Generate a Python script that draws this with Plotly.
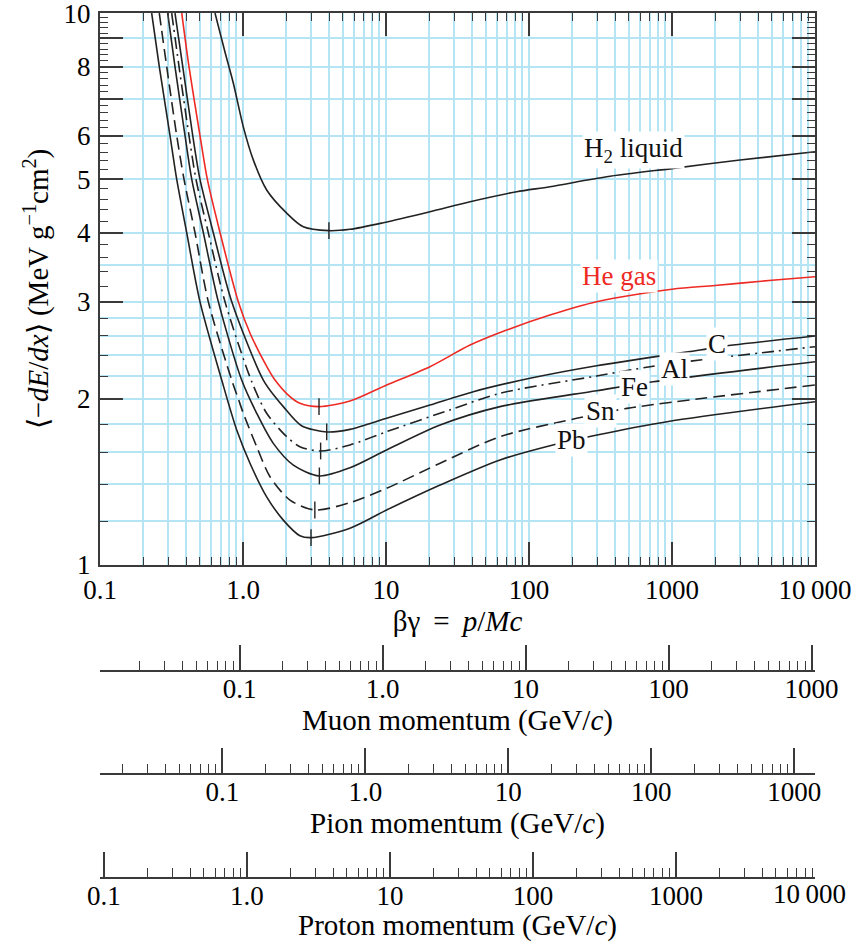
import numpy as np
import plotly.graph_objects as go

# ---------------- data ----------------
# particle masses (GeV/c^2) used for the momentum scales
M_MUON = 0.1056584
M_PION = 0.1395702
M_PROTON = 0.9382721

H2_bg = [0.637, 0.748, 0.856, 1.005, 1.18, 1.464, 2.02, 2.64, 3.99, 5.6, 9.58, 20.3, 38.7, 82.0, 140.0, 349.0, 1021.0, 2989.0, 10000.0]
H2_val = [10.0, 8.5, 7.46, 6.22, 5.42, 4.78, 4.34, 4.10, 4.034, 4.057, 4.17, 4.365, 4.551, 4.746, 4.845, 5.051, 5.232, 5.417, 5.607]

He_bg = [0.373, 0.419, 0.500, 0.563, 0.691, 0.927, 1.12, 1.464, 1.674, 2.13, 2.50, 3.40, 5.6, 10.1, 20.3, 38.7, 69.8, 140.0, 297.0, 1000.0, 2000.0, 5000.0, 10000.0]
He_val = [10.0, 8.0, 6.0, 5.0, 4.0, 3.0, 2.63, 2.29, 2.163, 2.018, 1.963, 1.936, 1.982, 2.119, 2.287, 2.503, 2.665, 2.837, 3.00, 3.16, 3.21, 3.28, 3.328]

C_bg = [0.3345, 0.379, 0.445, 0.500, 0.620, 0.834, 1.387, 1.72, 1.914, 2.55, 3.85, 5.6, 10.1, 20.3, 40.8, 101.6, 297.0, 1570.0, 2671.0, 10000.0]
C_val = [10.0, 8.0, 6.0, 5.0, 4.0, 3.0, 2.163, 2.0, 1.936, 1.79, 1.742, 1.761, 1.844, 1.949, 2.061, 2.179, 2.296, 2.452, 2.503, 2.599]

Al_bg = [0.3172, 0.357, 0.419, 0.469, 0.572, 0.748, 1.15, 1.464, 2.02, 2.50, 3.49, 5.6, 10.1, 28.0, 62.7, 297.0, 702.0, 1570.0, 10000.0]
Al_val = [10.0, 8.0, 6.0, 5.0, 4.0, 3.0, 2.15, 1.883, 1.708, 1.638, 1.609, 1.650, 1.744, 1.91, 2.047, 2.2, 2.287, 2.352, 2.486]

Fe_bg = [0.2974, 0.3345, 0.393, 0.438, 0.528, 0.672, 0.979, 1.247, 1.629, 2.25, 3.42, 5.6, 10.1, 23.9, 62.7, 297.0, 736.0, 10000.0]
Fe_val = [10.0, 8.0, 6.0, 5.0, 4.0, 3.0, 2.163, 1.883, 1.661, 1.517, 1.45, 1.50, 1.616, 1.793, 1.936, 2.069, 2.148, 2.335]

Sn_bg = [0.2598, 0.2927, 0.3438, 0.3867, 0.4617, 0.5719, 0.834, 0.927, 1.005, 1.247, 1.545, 2.13, 3.18, 5.6, 10.1, 23.9, 62.7, 215.6, 484.0, 10000.0]
Sn_val = [10.0, 8.0, 6.0, 5.0, 4.0, 3.0, 2.163, 2.0, 1.883, 1.638, 1.445, 1.311, 1.258, 1.297, 1.377, 1.529, 1.708, 1.844, 1.922, 2.119]

Pb_bg = [0.2298, 0.2598, 0.3087, 0.3438, 0.404, 0.500, 0.710, 0.904, 1.119, 1.464, 1.914, 2.50, 2.99, 5.6, 10.1, 23.9, 62.7, 147.0, 299.0, 923.0, 10000.0]
Pb_val = [10.0, 8.0, 6.0, 5.0, 4.0, 3.0, 2.163, 1.756, 1.529, 1.329, 1.206, 1.13, 1.121, 1.166, 1.258, 1.396, 1.55, 1.65, 1.72, 1.818, 1.976]

# minimum-ionization markers
min_bg = [3.99, 3.40, 3.85, 3.49, 3.42, 3.18, 2.99]
min_val = [4.034, 1.936, 1.742, 1.609, 1.450, 1.258, 1.121]

# curve labels: (text, log10 x, log10 y, colour)
labels = [
    ("H<sub>2</sub> liquid", 2.734, 0.752, "#111111"),
    ("He gas", 2.629, 0.524, "#ee2a24"),
    ("C", 3.318, 0.400, "#111111"),
    ("Al", 3.014, 0.355, "#111111"),
    ("Fe", 2.741, 0.3225, "#111111"),
    ("Sn", 2.497, 0.279, "#111111"),
    ("Pb", 2.297, 0.2264, "#111111"),
]

x_major = [0.1, 1, 10, 100, 1000, 10000]
x_major_text = ["0.1", "1.0", "10", "100", "1000", "10\u2009000"]
y_major = [1, 2, 3, 4, 5, 6, 7, 8, 9, 10]
y_major_text = ["1", "2", "3", "4", "5", "6", "", "8", "", "10"]
y_minor = [round(1 + 0.2 * i, 1) for i in range(46) if abs((1 + 0.2 * i) - round(1 + 0.2 * i)) > 1e-6]
y_extra_grid = [1.2, 1.4, 1.6, 1.8, 2.2, 2.4, 2.6, 2.8, 3.5]

# ---------------- styling ----------------
FONT = "Liberation Serif, Times New Roman, serif"
TICK_FS = 27
TITLE_FS = 29
GRID = "#b5e4f5"
INK = "#222222"
AXC = "#3a3a3a"
YR = [0, 1.0001]
XR = [-1, 4]
NB = "\u00a0"

fig = go.Figure()

curves = [
    (H2_bg, H2_val, INK, "solid"),
    (He_bg, He_val, "#ee2a24", "solid"),
    (C_bg, C_val, INK, "solid"),
    (Al_bg, Al_val, INK, "12px,5px,2px,5px"),
    (Fe_bg, Fe_val, INK, "solid"),
    (Sn_bg, Sn_val, INK, "12px,6px"),
    (Pb_bg, Pb_val, INK, "solid"),
]
for bg, val, col, dash in curves:
    fig.add_trace(go.Scatter(x=bg, y=val, mode="lines",
                             line=dict(color=col, width=1.6, dash=dash, shape="spline", smoothing=0.8),
                             showlegend=False, hoverinfo="skip"))

fig.add_trace(go.Scatter(x=min_bg, y=min_val, mode="markers",
                         marker=dict(symbol="line-ns", size=12, line=dict(width=1.4, color=INK)),
                         showlegend=False, hoverinfo="skip"))

# dummy traces so the extra axes get subplots
for xa, ya in [("x2", "y"), ("x3", "y"), ("x4", "y"), ("x", "y2"), ("x5", "y"), ("x", "y3")]:
    fig.add_trace(go.Scatter(x=[None], y=[None], xaxis=xa, yaxis=ya, showlegend=False, hoverinfo="skip"))

W, H = 866, 942
ML, MR, MT, MB = 100, 51, 13, 64
paper_h = H - MT - MB
def ypos(px):
    return (H - MB - px) / paper_h

main_bottom = ypos(565)

def minor_vals(lo, hi):
    out = []
    for k in range(-3, 5):
        for d in range(2, 10):
            v = d * 10.0 ** k
            if lo <= np.log10(v) <= hi:
                out.append(v)
    return out

tickfont = dict(family=FONT, size=TICK_FS, color="#000")
xminor = minor_vals(-1, 4)

x_title = "βγ" + "\u2009" + NB + "=" + NB + "\u2009<i>p</i>/<i>Mc</i>" + NB * 4
y_title = NB * 3 + "⟨−<i>dE</i>/<i>dx</i>⟩ (MeV g<sup>−1</sup>cm<sup>2</sup>)"

fig.update_layout(
    width=W, height=H, template="none",
    margin=dict(l=ML, r=MR, t=MT, b=MB),
    paper_bgcolor="white", plot_bgcolor="white",
    font=dict(family=FONT, color="#000"),
    xaxis=dict(type="log", range=XR, domain=[0, 1], anchor="y",
               tickmode="array", tickvals=x_major, ticktext=x_major_text,
               ticks="inside", ticklen=23, tickwidth=1.5, tickcolor=AXC,
               showline=True, linecolor=AXC, linewidth=2,
               showgrid=True, gridcolor=GRID, gridwidth=1.6, zeroline=False,
               minor=dict(tickmode="array", tickvals=xminor, ticks="inside", ticklen=8,
                          tickwidth=1.3, tickcolor=AXC, showgrid=True, gridcolor=GRID, gridwidth=1.6),
               ticklabelstandoff=0, ticklabeloverflow="allow", automargin=False, tickfont=tickfont,
               title=dict(text=x_title, font=dict(family=FONT, size=TITLE_FS), standoff=2)),
    xaxis5=dict(type="log", range=XR, overlaying="x", anchor="y", side="top",
                tickmode="array", tickvals=x_major, showticklabels=False,
                ticks="inside", ticklen=23, tickwidth=1.5, tickcolor=AXC,
                showline=True, linecolor=AXC, linewidth=2, showgrid=False, zeroline=False,
                minor=dict(tickmode="array", tickvals=xminor, ticks="inside", ticklen=8,
                           tickwidth=1.3, tickcolor=AXC, showgrid=False)),
    yaxis=dict(type="log", range=YR, domain=[main_bottom, 1], anchor="x",
               tickmode="array", tickvals=y_major, ticktext=y_major_text,
               ticks="inside", ticklen=23, tickwidth=1.5, tickcolor=AXC,
               showline=True, linecolor=AXC, linewidth=2,
               showgrid=True, gridcolor=GRID, gridwidth=1.6, zeroline=False,
               minor=dict(tickmode="array", tickvals=y_minor, ticks="inside", ticklen=8,
                          tickwidth=1.3, tickcolor=AXC, showgrid=False),
               ticklabelstandoff=2, ticklabeloverflow="allow", automargin=False, tickfont=tickfont,
               title=dict(text=y_title, font=dict(family=FONT, size=TITLE_FS), standoff=6)),
    yaxis2=dict(type="log", range=YR, overlaying="y", anchor="x",
                tickmode="array", tickvals=y_extra_grid, showticklabels=False, ticks="",
                showgrid=True, gridcolor=GRID, gridwidth=1.6, showline=False, zeroline=False),
    yaxis3=dict(type="log", range=YR, overlaying="y", anchor="x", side="right",
                tickmode="array", tickvals=y_major, showticklabels=False,
                ticks="inside", ticklen=23, tickwidth=1.5, tickcolor=AXC,
                showline=True, linecolor=AXC, linewidth=2, showgrid=False, zeroline=False,
                minor=dict(tickmode="array", tickvals=y_minor, ticks="inside", ticklen=8,
                           tickwidth=1.3, tickcolor=AXC, showgrid=False)),
)

def mom_axis(mass, pos, name):
    lo = np.log10(0.1 * mass)
    hi = np.log10(10000 * mass)
    maj = [v for v in x_major if lo <= np.log10(v) <= hi]
    txt = [x_major_text[x_major.index(v)] for v in maj]
    return dict(type="log", range=[lo, hi], overlaying="x", anchor="free", position=pos,
                side="bottom", tickmode="array", tickvals=maj, ticktext=txt,
                ticks="inside", ticklen=25, tickwidth=1.5, tickcolor=AXC,
                showline=True, linecolor=AXC, linewidth=2, showgrid=False, zeroline=False,
                minor=dict(tickmode="array", tickvals=minor_vals(lo, hi), ticks="inside",
                           ticklen=9, tickwidth=1.3, tickcolor=AXC, showgrid=False),
                ticklabelstandoff=-6, ticklabeloverflow="allow", automargin=False, tickfont=tickfont,
                title=dict(text=name + " momentum (GeV/<i>c</i>)", font=dict(family=FONT, size=TITLE_FS), standoff=0))

fig.update_layout(
    xaxis2=mom_axis(M_MUON, ypos(671), "Muon"),
    xaxis3=mom_axis(M_PION, ypos(774), "Pion"),
    xaxis4=mom_axis(M_PROTON, ypos(878), "Proton"),
)

anns = []
for text, lx, ly, col in labels:
    anns.append(dict(text=text, x=lx, y=ly, xref="x", yref="y", showarrow=False,
                     font=dict(family=FONT, size=TICK_FS, color=col),
                     bgcolor="white", borderpad=1, xanchor="center", yanchor="middle"))
# proton axis end label (10 000 lies just past the axis end)
anns.append(dict(text="10\u2009000", x=(809 - ML) / (W - ML - MR), y=ypos(894), xref="paper", yref="paper",
                 showarrow=False, font=tickfont, xanchor="center", yanchor="middle"))
fig.update_layout(annotations=anns)

fig.write_html("out.html")
